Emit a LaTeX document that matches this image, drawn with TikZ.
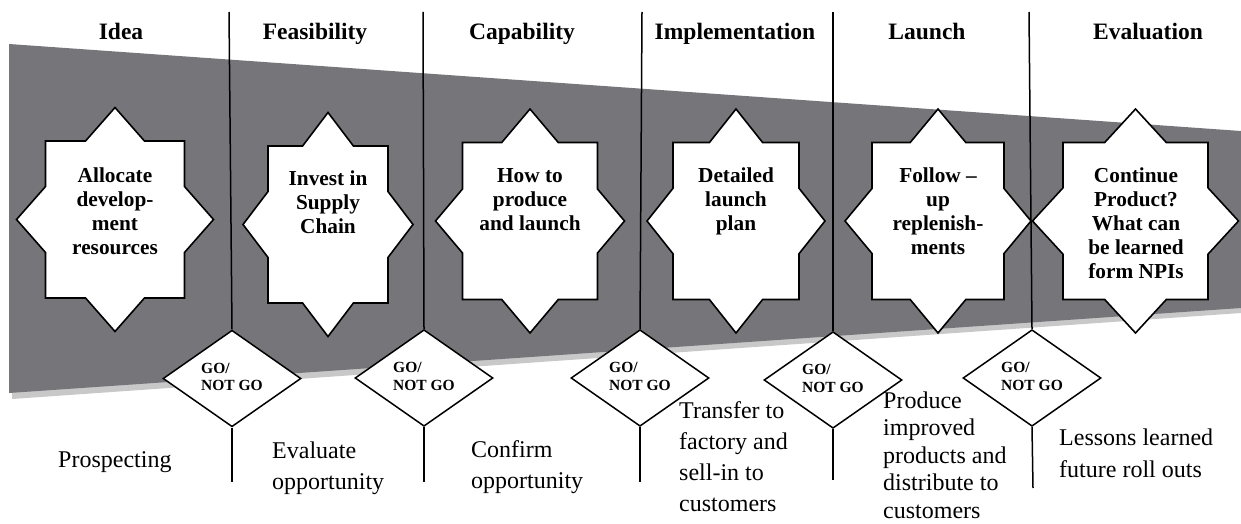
\documentclass[tikz,border=0pt]{standalone}
\usepackage{fontspec}
\setmainfont{Liberation Serif}
\usetikzlibrary{shapes.geometric}
\definecolor{funnelgray}{RGB}{118,117,122}
\definecolor{shadegray}{RGB}{200,200,200}
\tikzset{
  starline/.style={draw=black,fill=white,line width=1.6pt,line join=miter},
  vline/.style={draw=black,line width=1.5pt},
  gonogo/.style={diamond,draw=black,fill=white,line width=1.5pt,minimum width=138pt,minimum height=82pt,inner sep=0pt,font=\fontsize{15.5}{17.5}\selectfont\bfseries},
  heading/.style={anchor=base,inner sep=0pt,font=\fontsize{23.5}{27}\selectfont\bfseries},
  startext/.style={anchor=base,inner sep=0pt,font=\fontsize{21.3}{24}\selectfont\bfseries},
  lowtext/.style={anchor=base west,inner sep=0pt,font=\fontsize{24}{31.3}\selectfont}
}
\newcommand\npistar[4]{%
  \pgfmathsetmacro\npidh{112}%
  \pgfmathsetmacro\npirh{78.5}%
  \pgfmathsetmacro\npia{#4*(1-\npirh/\npidh)}%
  \pgfmathsetmacro\npib{\npidh*(1-#3/#4)}%
  \draw[starline,shift={(#1,#2)}] (0,-\npidh) -- (\npia,-\npirh) -- (#3,-\npirh) -- (#3,-\npib) -- (#4,0) -- (#3,\npib) -- (#3,\npirh) -- (\npia,\npirh) -- (0,\npidh) -- (-\npia,\npirh) -- (-#3,\npirh) -- (-#3,\npib) -- (-#4,0) -- (-#3,-\npib) -- (-#3,-\npirh) -- (-\npia,-\npirh) -- cycle;%
}
\begin{document}
\begin{tikzpicture}[x=1pt,y=-1pt]
\useasboundingbox (0,0) rectangle (1241,524);
% funnel with shadow
\fill[shadegray] (12,48) -- (1241,135) -- (1241,313) -- (12,399) -- cycle;
\fill[funnelgray] (9,44) -- (1241,131) -- (1241,308) -- (9,393) -- cycle;
% stars
\npistar{115}{219.5}{69.5}{98.5}
\npistar{328}{224.5}{60}{85}
\npistar{530}{221}{67.5}{94.5}
\npistar{736}{221}{63}{89}
\npistar{938}{221}{66}{93}
\npistar{1135.5}{221}{72.5}{103}
% go / not go diamonds
\coordinate (t1) at (229,12);
\coordinate (t2) at (423,12);
\coordinate (t3) at (642,12);
\coordinate (t4) at (833,12);
\coordinate (t5) at (1029,12);
\coordinate (b1) at (232,482);
\coordinate (b2) at (424,482);
\coordinate (b3) at (640,482);
\coordinate (b4) at (833,480);
\coordinate (b5) at (1033,488);
\node[gonogo] (d1) at (232,378.5) {\begin{tabular}{@{}l@{}}GO/\\NOT GO\end{tabular}};
\node[gonogo] (d2) at (424,378) {\begin{tabular}{@{}l@{}}GO/\\NOT GO\end{tabular}};
\node[gonogo] (d3) at (640,378) {\begin{tabular}{@{}l@{}}GO/\\NOT GO\end{tabular}};
\node[gonogo] (d4) at (833,380) {\begin{tabular}{@{}l@{}}GO/\\NOT GO\end{tabular}};
\node[gonogo] (d5) at (1032,378) {\begin{tabular}{@{}l@{}}GO/\\NOT GO\end{tabular}};
\foreach \i in {1,...,5}{
  \draw[vline] (t\i) -- (d\i.north);
  \draw[vline] (d\i.south) -- (b\i);
}
% headings
\node[heading] (h1) at (121,40) {Idea};
\node[heading] (h2) at (315,40) {Feasibility};
\node[heading] (h3) at (522,40) {Capability};
\node[heading] (h4) at (735,40) {Implementation};
\node[heading] (h5) at (927,40) {Launch};
\node[heading] (h6) at (1148,40) {Evaluation};
% star texts
\node[startext] (s1) at (115,182) {\begin{tabular}[t]{@{}c@{}}Allocate\\develop-\\ment\\resources\end{tabular}};
\node[startext] (s2) at (328,185) {\begin{tabular}[t]{@{}c@{}}Invest in\\Supply\\Chain\end{tabular}};
\node[startext] (s3) at (530,182) {\begin{tabular}[t]{@{}c@{}}How to\\produce\\and launch\end{tabular}};
\node[startext] (s4) at (736,182) {\begin{tabular}[t]{@{}c@{}}Detailed\\launch\\plan\end{tabular}};
\node[startext] (s5) at (938,182) {\begin{tabular}[t]{@{}c@{}}Follow --\\up\\replenish-\\ments\end{tabular}};
\node[startext] (s6) at (1136,182) {\begin{tabular}[t]{@{}c@{}}Continue\\Product?\\What can\\be learned\\form NPIs\end{tabular}};
% lower texts
\node[lowtext] (l1) at (58,467) {Prospecting};
\node[lowtext] (l2) at (272,458) {\begin{tabular}[t]{@{}l@{}}Evaluate\\opportunity\end{tabular}};
\node[lowtext] (l3) at (471,457) {\begin{tabular}[t]{@{}l@{}}Confirm\\opportunity\end{tabular}};
\node[lowtext] (l4) at (679,418) {\begin{tabular}[t]{@{}l@{}}Transfer to\\factory and\\sell-in to\\customers\end{tabular}};
\node[lowtext,font=\fontsize{24}{27.5}\selectfont] (l5) at (883,408) {\begin{tabular}[t]{@{}l@{}}Produce\\improved\\products and\\distribute to\\customers\end{tabular}};
\node[lowtext,font=\fontsize{24}{32.7}\selectfont] (l6) at (1059,445) {\begin{tabular}[t]{@{}l@{}}Lessons learned\\future roll outs\end{tabular}};
\end{tikzpicture}
\end{document}
